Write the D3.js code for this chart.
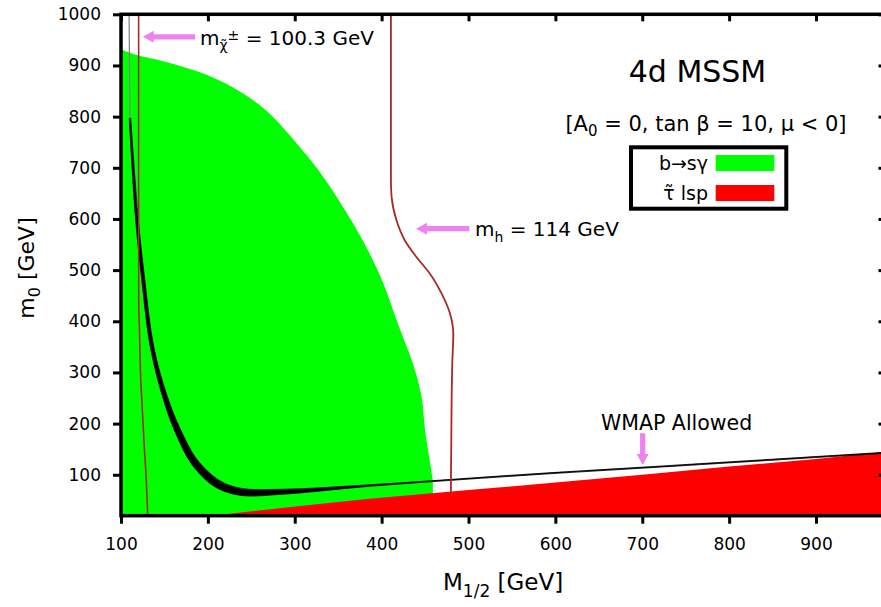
<!DOCTYPE html>
<html><head><meta charset="utf-8">
<script src="https://cdn.jsdelivr.net/npm/d3@7"></script>
<style>
body{margin:0;background:#fff;}
text{font-family:"DejaVu Sans",sans-serif;fill:#000;}
</style>
</head><body>
<svg id="c" width="881" height="607"></svg>
<script>
// ---- data (M_1/2 [GeV], m_0 [GeV]) ----
const xTicks = [100,200,300,400,500,600,700,800,900];
const yTicks = [100,200,300,400,500,600,700,800,900,1000];
// b -> s gamma excluded region boundary (green)
const bsgBoundary = [[100,931],[117,921],[152,907],[190,887],[229,857],[267,812],[306,740],[332,684],[371,580],[398,490],[421,385],[436,317],[446,252],[450,187],[456,121],[459,89]];
// stau LSP region upper boundary (red)
const stauBoundary = [[205,20],[306,39],[386,53],[500,70],[600,85],[700,100],[800,116],[900,131],[980,145]];
// WMAP allowed band edges (black)
const wmapUpper = [[111.2,797],[119.6,604],[127.4,481],[137.7,350],[153.2,253.5],[168.2,189.5],[187.5,129.8],[213.2,89],[237.6,73.7],[286.5,71.7],[387,80.5],[571,101.5],[701.5,115],[980,144]];
const wmapLower = [[109.5,797],[116.6,604],[123.9,481],[133.7,350],[148,251.5],[161.8,185.5],[181.7,120],[207.2,77.4],[236.4,60],[286.5,62],[387,77.5],[571,99.5],[701.5,113],[980,142]];
const wmapThin = [[109.3,1000],[110.3,797]];
// chargino mass bound m_chi+- = 100.3 GeV
const charginoLine = [[120.3,1000],[120.3,700],[120.4,440],[121.3,380],[122.8,284],[124.8,220],[126.8,154],[128.8,100],[130,56],[130.7,20]];
// Higgs mass bound m_h = 114 GeV
const higgsLine = [[410.7,1000],[410.7,675],[411.5,643],[417.2,597],[426.8,558],[440.3,525],[455.6,493],[469.1,454],[478.7,415],[482.5,375],[481.3,317],[480.6,251],[479.8,89],[479.8,63]];
// annotation arrows [tail, tip]
const charginoArrow = [[185.2,956],[125,956]];
const higgsArrow = [[500.9,581],[439.6,581]];
const wmapArrow = [[700.5,181],[700.5,119]];

// ---- chart ----
const W = 881, H = 607;
const x = d3.scaleLinear().domain([100,980]).range([121,885.5]);
const y = d3.scaleLinear().domain([20,1000]).range([515.7,14.3]);
const svg = d3.select('#c');
svg.append('rect').attr('width',W).attr('height',H).attr('fill','#fff');

svg.append('defs').append('clipPath').attr('id','clip')
  .append('rect').attr('x',x(100)).attr('y',y(1000))
  .attr('width',x(980)-x(100)).attr('height',y(20)-y(1000));
const g = svg.append('g').attr('clip-path','url(#clip)');

const line = d3.line().x(d=>x(d[0])).y(d=>y(d[1]));
const smooth = d3.line().x(d=>x(d[0])).y(d=>y(d[1])).curve(d3.curveCatmullRom);
const mono = d3.line().x(d=>x(d[0])).y(d=>y(d[1])).curve(d3.curveMonotoneY);

// green region
const gEdge = smooth(bsgBoundary);
const last = bsgBoundary[bsgBoundary.length-1];
g.append('path')
  .attr('d', `M${x(100)},${y(20)}L` + gEdge.substring(1) + `L${x(last[0])},${y(20)}Z`)
  .attr('fill','#00ff00');
// red region
g.append('path').attr('d', line([...stauBoundary,[980,20]]) + 'Z').attr('fill','#ff0000');
// WMAP band
const pu = smooth(wmapUpper);
const pl = smooth(wmapLower.slice().reverse());
g.append('path').attr('d', pu + 'L' + pl.substring(1) + 'Z').attr('fill','#000').attr('stroke','#000').attr('stroke-width',0.8);
g.append('path').attr('d', line(wmapThin)).attr('fill','none').attr('stroke','#808080').attr('stroke-width',1.2);
// bound lines
g.append('path').attr('d', mono(charginoLine)).attr('fill','none').attr('stroke','#a52a2a').attr('stroke-width',1.6);
g.append('path').attr('d', mono(higgsLine)).attr('fill','none').attr('stroke','#a52a2a').attr('stroke-width',1.8);

// axes
function styleAxis(sel){
  sel.select('.domain').remove();
  sel.selectAll('.tick line').attr('stroke','#000').attr('stroke-width',3);
  sel.selectAll('.tick text').attr('font-size',17).attr('fill','#000')
     .attr('font-family','"DejaVu Sans",sans-serif');
}
svg.append('g').attr('transform',`translate(0,${y(20)})`)
  .call(d3.axisBottom(x).tickValues(xTicks).tickSize(8).tickPadding(14).tickFormat(d3.format('d')))
  .call(styleAxis);
svg.append('g').attr('transform',`translate(${x(100)},0)`)
  .call(d3.axisLeft(y).tickValues(yTicks).tickSize(8).tickPadding(12).tickFormat(d3.format('d')))
  .call(styleAxis);
svg.append('g').attr('transform',`translate(0,${y(1000)})`)
  .call(d3.axisTop(x).tickValues(xTicks).tickSize(-7).tickFormat(''))
  .call(styleAxis);
svg.append('g').attr('transform',`translate(${x(980)},0)`)
  .call(d3.axisRight(y).tickValues(yTicks).tickSize(-7).tickFormat(''))
  .call(styleAxis);
// border
svg.append('rect').attr('x',x(100)).attr('y',y(1000))
  .attr('width',x(980)-x(100)).attr('height',y(20)-y(1000))
  .attr('fill','none').attr('stroke','#000').attr('stroke-width',3.5);

// axis titles
const xt = svg.append('text').attr('x',443).attr('y',590).attr('font-size',23);
xt.append('tspan').text('M');
xt.append('tspan').attr('font-size',17).attr('dy',7).text('1/2');
xt.append('tspan').attr('dy',-7).text(' [GeV]');
const yt = svg.append('text').attr('transform','translate(34,268) rotate(-90)')
  .attr('text-anchor','middle').attr('font-size',22);
yt.append('tspan').text('m');
yt.append('tspan').attr('font-size',16).attr('dy',6).text('0');
yt.append('tspan').attr('dy',-6).text(' [GeV]');

// arrows
function arrowPts(a){
  const x1=x(a[0][0]), y1=y(a[0][1]), x2=x(a[1][0]), y2=y(a[1][1]);
  const dx=x2-x1, dy=y2-y1, L=Math.hypot(dx,dy), ux=dx/L, uy=dy/L, nx=-uy, ny=ux;
  const hl=11, hw=6, sw=2.6;
  const bx=x2-ux*hl, by=y2-uy*hl;
  return [[x1+nx*sw,y1+ny*sw],[bx+nx*sw,by+ny*sw],[bx+nx*hw,by+ny*hw],[x2,y2],
          [bx-nx*hw,by-ny*hw],[bx-nx*sw,by-ny*sw],[x1-nx*sw,y1-ny*sw]].map(p=>p.join(',')).join(' ');
}
[charginoArrow, higgsArrow, wmapArrow].forEach(a=>{
  svg.append('polygon').attr('points',arrowPts(a)).attr('fill','#ee82ee');
});

// annotation labels
const cl = svg.append('text').attr('x',200).attr('y',45).attr('font-size',20);
cl.append('tspan').text('m');
cl.append('tspan').attr('font-size',14).attr('dy',5).text('\u03C7\u0303');
cl.append('tspan').attr('font-size',14).attr('dy',-10).text('\u00B1');
cl.append('tspan').attr('dy',5).text(' = 100.3 GeV');

const hl = svg.append('text').attr('x',475).attr('y',236).attr('font-size',20);
hl.append('tspan').text('m');
hl.append('tspan').attr('font-size',14).attr('dy',6).text('h');
hl.append('tspan').attr('dy',-6).text(' = 114 GeV');

svg.append('text').attr('x',601).attr('y',430).attr('font-size',20.5).text('WMAP Allowed');

// title & parameters
svg.append('text').attr('x',697.5).attr('y',82).attr('text-anchor','middle').attr('font-size',30).text('4d MSSM');
const st = svg.append('text').attr('x',706).attr('y',130.5).attr('text-anchor','middle').attr('font-size',21);
st.append('tspan').text('[A');
st.append('tspan').attr('font-size',15).attr('dy',5).text('0');
st.append('tspan').attr('dy',-5).text(' = 0, tan \u03B2 = 10, \u03BC < 0]');

// legend
svg.append('rect').attr('x',631).attr('y',147.3).attr('width',155.3).attr('height',61.4)
  .attr('fill','#fff').attr('stroke','#000').attr('stroke-width',4);
const legendItems = [{label:'b\u2192s\u03B3', color:'#00ff00', y:155},{label:'\u03C4\u0303 lsp', color:'#ff0000', y:185}];
legendItems.forEach(d=>{
  svg.append('rect').attr('x',715.7).attr('y',d.y).attr('width',58.6).attr('height',16).attr('fill',d.color);
  svg.append('text').attr('x',708).attr('y',d.y+15).attr('text-anchor','end').attr('font-size',19).text(d.label);
});
</script>
</body></html>
